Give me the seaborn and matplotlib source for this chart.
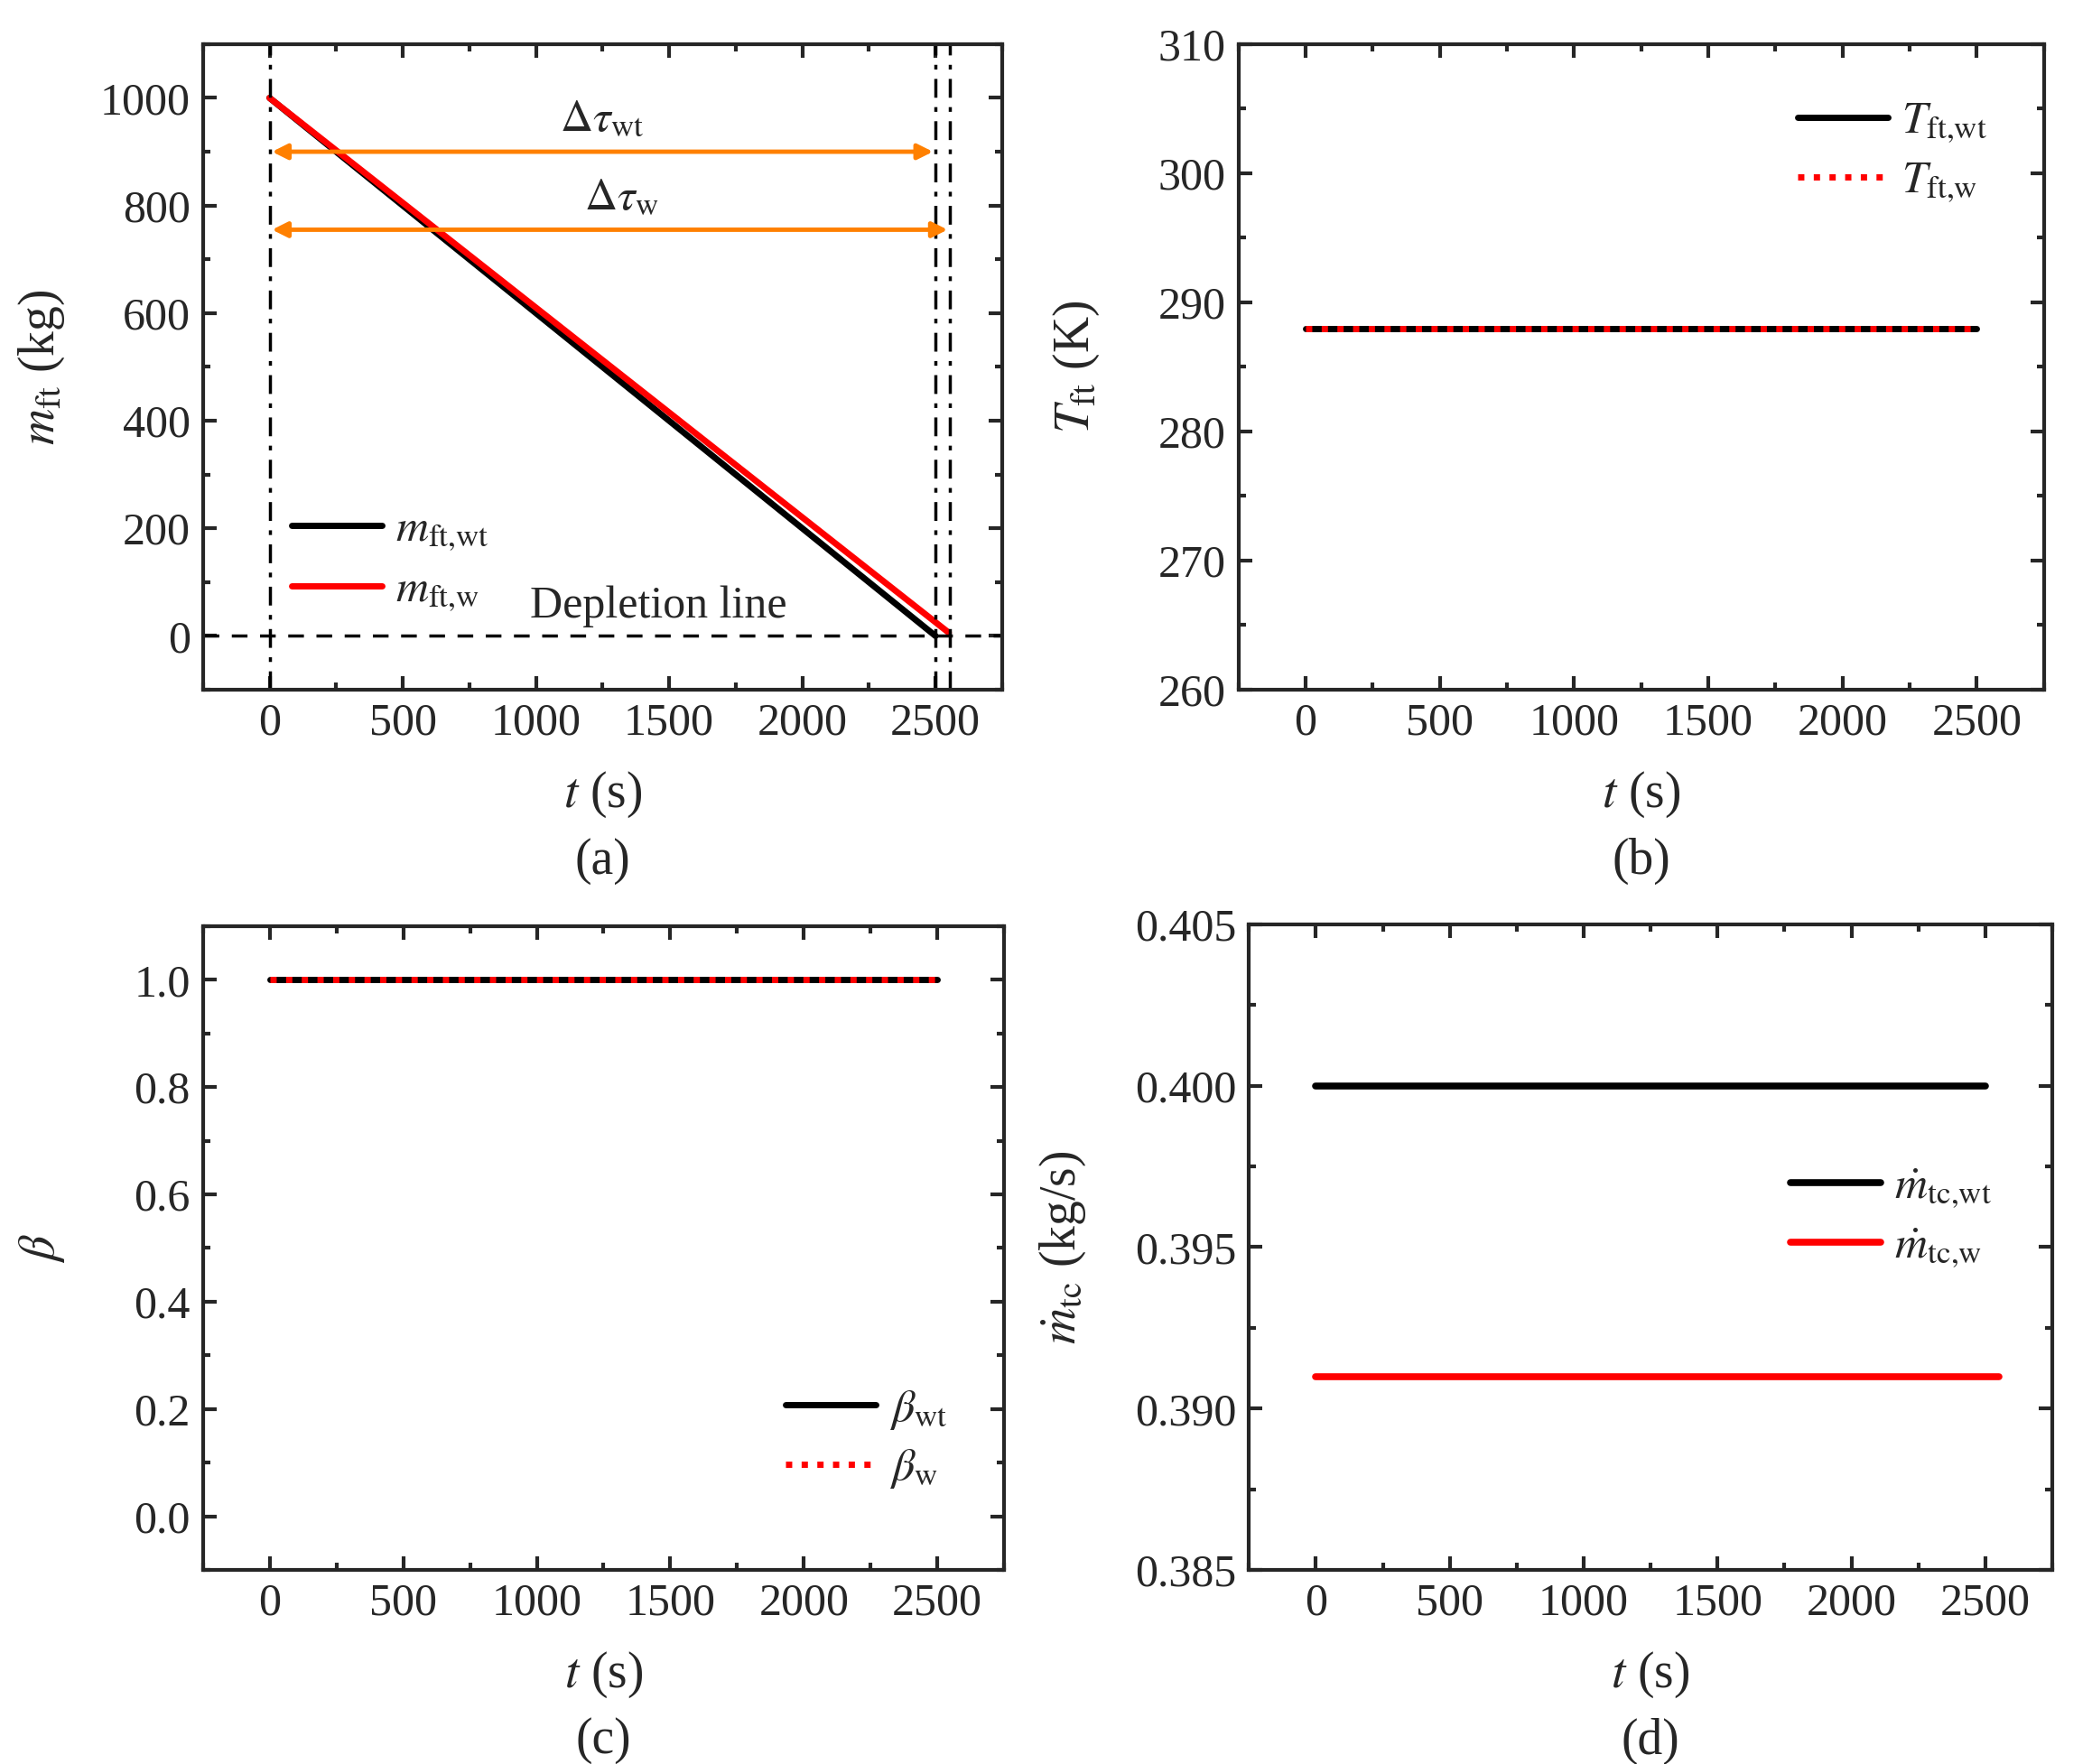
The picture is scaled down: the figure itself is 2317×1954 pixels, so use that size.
import numpy as np
import pandas as pd
import matplotlib
matplotlib.use('Agg')
import matplotlib.pyplot as plt
from matplotlib.ticker import MultipleLocator, FormatStrFormatter
import seaborn as sns

# 数据
t_wt = [0, 2500]
t_w = [0, 2550]
m_ft_wt = [1000, 0]
m_ft_w = [1000, 6]
T_ft_wt = [288, 288]
T_ft_w = [288, 288]
beta_wt = [1.0, 1.0]
beta_w = [1.0, 1.0]
mdot_wt = [0.400, 0.400]
mdot_w = [0.391, 0.391]
tau_wt = 2500
tau_w = 2555
depletion_lines = [0, tau_wt, tau_w]

sns.set_theme(style='ticks')
plt.rcParams['font.family'] = ['Liberation Serif', 'DejaVu Serif']
plt.rcParams['mathtext.fontset'] = 'stix'
plt.rcParams['axes.linewidth'] = 3
plt.rcParams['xtick.direction'] = 'in'
plt.rcParams['ytick.direction'] = 'in'

FS = 36

fig = plt.figure(figsize=(23.17, 19.54), dpi=100)
ax_a = fig.add_axes([0.097, 0.609, 0.382, 0.366])
ax_b = fig.add_axes([0.592, 0.609, 0.385, 0.366])
ax_c = fig.add_axes([0.097, 0.110, 0.383, 0.365])
ax_d = fig.add_axes([0.597, 0.110, 0.384, 0.366])

LEG = dict(frameon=False, fontsize=FS, handlelength=2.0, labelspacing=0.35, handletextpad=0.3)


def style_axis(ax, ylim, ymaj, ymin, ylabel, tag, ylab_x=-0.17):
    ax.set_xlim(-250, 2750)
    ax.set_ylim(*ylim)
    ax.xaxis.set_major_locator(MultipleLocator(500))
    ax.xaxis.set_minor_locator(MultipleLocator(250))
    ax.yaxis.set_major_locator(MultipleLocator(ymaj))
    ax.yaxis.set_minor_locator(MultipleLocator(ymin))
    ax.tick_params(which='both', top=True, right=True, width=3, labelsize=FS, pad=10)
    ax.tick_params(which='major', length=11)
    ax.tick_params(which='minor', length=6)
    for sp in ax.spines.values():
        sp.set_linewidth(3)
        sp.set_visible(True)
    ax.set_xlabel(r'$t$ (s)', fontsize=FS + 4, labelpad=20)
    ax.set_ylabel(ylabel, fontsize=FS + 4)
    ax.yaxis.set_label_coords(ylab_x, 0.5)
    ax.text(0.5, -0.265, tag, transform=ax.transAxes, ha='center', va='center', fontsize=FS + 4)


# (a) 燃料质量
sns.lineplot(x=t_wt, y=m_ft_wt, ax=ax_a, color='black', lw=5, label=r'$m_{\mathrm{ft{,}wt}}$')
sns.lineplot(x=t_w, y=m_ft_w, ax=ax_a, color='red', lw=5, label=r'$m_{\mathrm{ft{,}w}}$')
for xv in depletion_lines:
    ax_a.axvline(xv, color='black', lw=2.5, ls=(0, (6, 3, 1.5, 3)))
ax_a.axhline(0, color='black', lw=2.5, ls=(0, (5, 4)))
ax_a.annotate('', xy=(tau_wt, 900), xytext=(0, 900),
              arrowprops=dict(arrowstyle='<|-|>', color='#FF8000', lw=3.5, mutation_scale=25))
ax_a.annotate('', xy=(tau_w, 755), xytext=(0, 755),
              arrowprops=dict(arrowstyle='<|-|>', color='#FF8000', lw=3.5, mutation_scale=25))
ax_a.text(1250, 960, r'$\Delta\tau_{\mathrm{wt}}$', ha='center', va='center', fontsize=FS)
ax_a.text(1320, 815, r'$\Delta\tau_{\mathrm{w}}$', ha='center', va='center', fontsize=FS)
ax_a.text(1460, 55, 'Depletion line', ha='center', va='center', fontsize=FS)
ax_a.legend(loc='lower left', bbox_to_anchor=(0.06, 0.055), **LEG)
style_axis(ax_a, (-100, 1100), 200, 100, r'$m_{\mathrm{ft}}$ (kg)', '(a)')

# (b) 燃料温度
sns.lineplot(x=t_wt, y=T_ft_wt, ax=ax_b, color='black', lw=5, label=r'$T_{\mathrm{ft{,}wt}}$')
sns.lineplot(x=t_wt, y=T_ft_w, ax=ax_b, color='red', lw=5, ls=(0, (1, 1.5)), label=r'$T_{\mathrm{ft{,}w}}$')
ax_b.legend(loc='upper right', bbox_to_anchor=(0.98, 0.975), **LEG)
style_axis(ax_b, (260, 310), 10, 5, r'$T_{\mathrm{ft}}$ (K)', '(b)')

# (c) beta
sns.lineplot(x=t_wt, y=beta_wt, ax=ax_c, color='black', lw=5, label=r'$\beta_{\mathrm{wt}}$')
sns.lineplot(x=t_wt, y=beta_w, ax=ax_c, color='red', lw=5, ls=(0, (1, 1.5)), label=r'$\beta_{\mathrm{w}}$')
ax_c.legend(loc='lower right', bbox_to_anchor=(0.98, 0.06), **LEG)
style_axis(ax_c, (-0.1, 1.1), 0.2, 0.1, r'$\beta$', '(c)')
ax_c.yaxis.set_major_formatter(FormatStrFormatter('%.1f'))

# (d) 质量流量
sns.lineplot(x=t_wt, y=mdot_wt, ax=ax_d, color='black', lw=5.5, label=r'$\dot{m}_{\mathrm{tc{,}wt}}$')
sns.lineplot(x=t_w, y=mdot_w, ax=ax_d, color='red', lw=5.5, label=r'$\dot{m}_{\mathrm{tc{,}w}}$')
ax_d.legend(loc='center right', bbox_to_anchor=(0.975, 0.545), **LEG)
style_axis(ax_d, (0.385, 0.405), 0.005, 0.0025, r'$\dot{m}_{\mathrm{tc}}$ (kg/s)', '(d)', ylab_x=-0.2)
ax_d.yaxis.set_major_formatter(FormatStrFormatter('%.3f'))

fig.savefig('out.png', dpi=100)
